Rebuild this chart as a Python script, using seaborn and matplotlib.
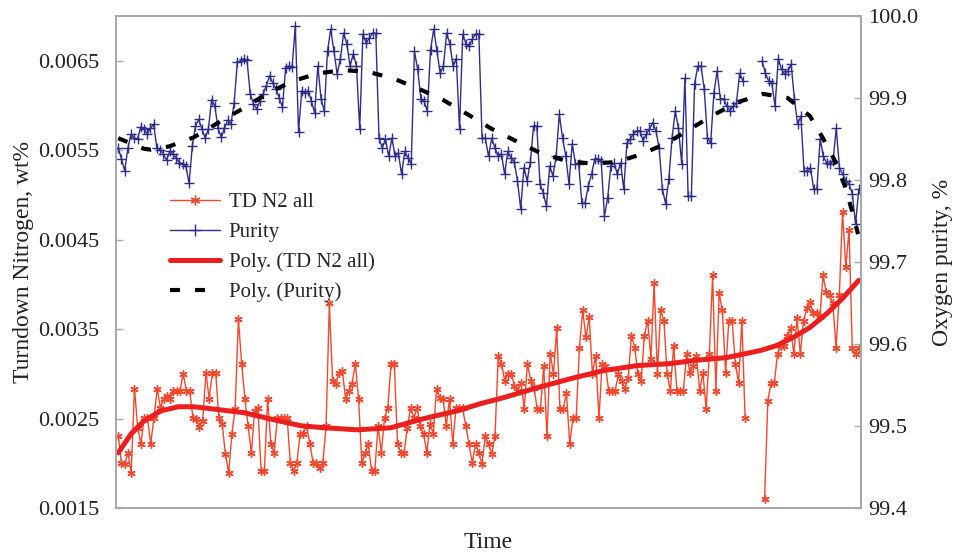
import numpy as np
import pandas as pd
import matplotlib
matplotlib.use("Agg")
import matplotlib.pyplot as plt
import seaborn as sns
from matplotlib.lines import Line2D

nan = np.nan

# TD N2 all, in units of 1e-4 wt% (nan = missing samples)
td_n2 = [
    23.07, 20.04, 19.93, 21.17, 18.92, 28.34, 23.97, 22.17, 25.09, 25.09,
    22.17, 25.09, 28.34, 26.21, 27.22, 27.56, 27.22, 28.12, 28.12, 28.12,
    30.02, 28.12, 28.12, 25.09, 24.98, 24.08, 24.75, 30.13, 27.22, 30.13,
    30.13, 25.09, 24.42, 21.05, 18.92, 23.30, 26.10, 36.08, 31.14, 27.22,
    24.19, 21.17, 25.87, 26.21, 19.15, 19.15, 27.22, 22.17, 21.17, 25.09,
    25.09, 25.09, 25.09, 20.04, 19.15, 20.04, 23.30, 23.30,
    24.19, 22.17, 20.04, 20.04, 19.48, 20.04, 24.19, 37.87, 29.24, 28.90,
    30.13, 30.36, 27.22, 28.12, 28.90, 31.14, 27.22, 20.04, 21.17, 22.17,
    19.15, 19.15, 24.19, 21.17, 25.09, 26.21, 31.14, 31.14, 22.17, 21.17,
    21.17, 23.97, 26.21, 25.09, 26.21, 24.19, 23.30, 21.17, 24.42, 23.30,
    28.34, 27.33, 27.22, 24.19, 27.22, 22.17, 26.21, 26.21, 26.21, 24.19,
    22.17, 20.04, 22.17, 21.17,
    19.93, 23.07, 22.17, 21.05, 23.07, 32.04, 31.14, 29.24, 30.02, 30.02,
    28.68, 28.12, 29.01, 26.10, 31.14, 29.24, 28.45, 26.10, 26.10, 30.92,
    23.07, 32.26, 30.02, 35.07, 26.10, 26.10, 27.89, 22.17, 25.09, 25.09,
    32.94, 37.09, 34.06, 36.30, 30.02, 32.04, 25.09, 31.14, 30.92, 28.12,
    28.12, 28.12, 30.02, 29.24, 28.34, 29.57, 34.28, 32.94, 30.02, 29.24,
    34.28, 35.96, 31.70, 40.11, 30.02, 37.09, 35.96, 30.02, 28.12, 33.16,
    28.12, 28.12, 28.12, 32.26, 30.13, 30.92, 32.04, 28.12, 30.13, 26.10,
    32.26, 41.01, 28.12, 38.99, 37.09, 30.13, 35.96, 35.96, 31.14, 29.01,
    35.96, 25.09, nan, nan, nan, nan, nan,
    16.01, 27.00, 29.01, 29.01, 32.26, 33.16, 33.16, 34.28, 35.07, 32.26,
    36.19, 32.26, 35.96, 37.31, 37.98, 36.75, 36.75, 36.30, 41.01, 39.10,
    38.77, 37.87, 32.94, 38.77, 48.07, 41.91, 46.05, 32.94, 32.26, 32.94,
]

# Purity, % (right axis)
purity = [
    99.839, 99.826, 99.811, 99.839, 99.856, 99.851, 99.850, 99.865, 99.862, 99.856,
    99.863, 99.868, 99.839, 99.837, 99.832, 99.824, 99.835, 99.832, 99.827, 99.821,
    99.820, 99.817, 99.796, 99.841, 99.866, 99.874, 99.862, 99.851, 99.862, 99.898,
    99.890, 99.863, 99.852, 99.863, 99.873, 99.868, 99.894, 99.944, 99.945, 99.948,
    99.946, 99.905, 99.893, 99.887, 99.896, 99.905, 99.915, 99.927, 99.918, 99.911,
    99.900, 99.889, 99.937, 99.939, 99.938, 99.988, 99.859, 99.909, 99.906,
    99.909, 99.896, 99.882, 99.939, 99.899, 99.884, 99.957, 99.984, 99.957,
    99.929, 99.948, 99.979, 99.966, 99.939, 99.954, 99.939, 99.862,
    99.978, 99.967, 99.973, 99.979, 99.979, 99.851, 99.839, 99.850,
    99.829, 99.851, 99.829, 99.833, 99.807, 99.835, 99.827, 99.820, 99.957,
    99.935, 99.899, 99.896, 99.884, 99.959, 99.984, 99.957, 99.930, 99.939,
    99.979, 99.966, 99.939, 99.948, 99.862, 99.978, 99.966, 99.963, 99.972,
    99.978, 99.978, 99.851, 99.851, 99.829, 99.851, 99.839, 99.829, 99.832,
    99.807, 99.835, 99.827, 99.822, 99.799, 99.765, 99.815, 99.799, 99.822, 99.866,
    99.866, 99.795, 99.784, 99.768, 99.817, 99.805, 99.829, 99.880, 99.851, 99.829,
    99.795, 99.844, 99.820, 99.820, 99.772, 99.772, 99.793, 99.807, 99.826, 99.826,
    99.823, 99.756, 99.778, 99.817, 99.821, 99.807, 99.821, 99.789, 99.845, 99.850,
    99.856, 99.860, 99.860, 99.848, 99.856, 99.862, 99.870, 99.860, 99.839, 99.789,
    99.771, 99.801, 99.851, 99.884, 99.863, 99.820, 99.924, 99.780, 99.780, 99.917,
    99.939, 99.939, 99.911, 99.851, 99.845, 99.906, 99.933, 99.899, 99.899, 99.890,
    99.884, 99.890, 99.894, 99.930, 99.921, nan, nan, nan, nan, nan,
    99.945, 99.930, 99.921, 99.918, 99.890, 99.948, 99.935, 99.929, 99.933, 99.941,
    99.899, 99.868, 99.878, 99.811, 99.811, 99.815, 99.789, 99.789, 99.850, 99.829,
    99.821, 99.820, 99.823, 99.863, 99.815, 99.807, 99.799, 99.795, 99.783, 99.746,
    99.789,
]

# polynomial trend lines as drawn, sampled at fractions of the time span
td_trend_t = [0, 0.0175, 0.035, 0.058, 0.081, 0.102, 0.125, 0.170, 0.216, 0.247,
              0.278, 0.323, 0.368, 0.412, 0.458, 0.489, 0.520, 0.566, 0.611, 0.655,
              0.701, 0.745, 0.776, 0.822, 0.867, 0.889, 0.911, 0.934, 0.957, 0.978, 1.0]
td_trend = [21.17, 23.30, 24.75, 25.87, 26.32, 26.32, 26.10, 25.65, 24.75, 24.19,
            23.97, 23.74, 23.97, 24.98, 25.87, 26.66, 27.33, 28.45, 29.46, 30.36,
            30.92, 31.14, 31.48, 31.82, 32.60, 33.16, 34.06, 35.18, 36.75, 38.43, 40.45]
pur_trend_t = [0, 0.035, 0.044, 0.069, 0.102, 0.139, 0.170, 0.202, 0.237, 0.270,
               0.303, 0.337, 0.371, 0.404, 0.438, 0.472, 0.503, 0.536, 0.570, 0.606,
               0.640, 0.674, 0.708, 0.741, 0.772, 0.803, 0.837, 0.871, 0.904, 0.934,
               0.951, 0.968, 0.981, 0.991, 0.999]
pur_trend = [99.851, 99.838, 99.837, 99.841, 99.852, 99.872, 99.888, 99.906, 99.921, 99.930,
             99.934, 99.932, 99.924, 99.912, 99.898, 99.880, 99.863, 99.848, 99.833, 99.823,
             99.820, 99.822, 99.832, 99.845, 99.862, 99.879, 99.895, 99.905, 99.900, 99.878,
             99.852, 99.823, 99.793, 99.762, 99.734]

left_ticks = [0.0015, 0.0025, 0.0035, 0.0045, 0.0055, 0.0065]
right_ticks = [99.4, 99.5, 99.6, 99.7, 99.8, 99.9, 100.0]

RED = "#F4472C"
TREND_RED = "#EC1E1E"
BLUE = "#2E2E8A"
FRAME = "#A8A8A8"
TEXT = "#222222"


def series_frame(values, scale=1.0):
    v = np.asarray(values, dtype=float) * scale
    df = pd.DataFrame({"t": np.linspace(0, 1, len(v)), "v": v})
    # break the line where samples are missing
    df["seg"] = np.cumsum(np.isnan(v))
    return df.dropna()


sns.set_theme(style="white")
plt.rcParams["font.family"] = ["Liberation Serif", "DejaVu Serif"]

fig = plt.figure(figsize=(9.57, 5.54), dpi=100)
ax = fig.add_axes([116 / 957, 1 - 508 / 554, 745 / 957, 492 / 554])
ax2 = ax.twinx()

td_df = series_frame(td_n2, 1e-4)
pur_df = series_frame(purity)

sns.lineplot(data=td_df, x="t", y="v", units="seg", estimator=None, ax=ax,
             color=RED, lw=1.0, marker=(6, 2, 0), markersize=6,
             markeredgecolor=RED, markeredgewidth=1.0, legend=False)
sns.lineplot(x=td_trend_t, y=np.array(td_trend) * 1e-4, ax=ax,
             color=TREND_RED, lw=3.6, legend=False)

sns.lineplot(data=pur_df, x="t", y="v", units="seg", estimator=None, ax=ax2,
             color=BLUE, lw=1.0, marker="+", markersize=7,
             markeredgecolor=BLUE, markeredgewidth=1.0, legend=False)
sns.lineplot(x=pur_trend_t, y=pur_trend, ax=ax2, color="black", lw=3.0,
             linestyle=(0, (2.4, 3.6)), legend=False)

ax.set_xlim(-0.003, 1.003)
ax.set_ylim(0.0015, 0.0070)
ax2.set_ylim(99.4, 100.0)
ax.set_xticks([])
ax.set_yticks(left_ticks)
ax.set_yticklabels([f"{t:.4f}" for t in left_ticks])
ax2.set_yticks(right_ticks)
ax2.set_yticklabels([f"{t:.1f}" for t in right_ticks])

for a in (ax, ax2):
    for s in a.spines.values():
        s.set_color(FRAME)
        s.set_linewidth(1.3)
    a.grid(False)
ax.tick_params(axis="y", direction="in", length=5, width=1,
               labelsize=16, pad=12, colors=TEXT)
ax2.tick_params(axis="y", direction="in", length=5, width=1,
                labelsize=16, pad=5, colors=TEXT)
ax.tick_params(axis="y", color=FRAME)
ax2.tick_params(axis="y", color=FRAME)

ax.set_xlabel("Time", fontsize=17, labelpad=17, color=TEXT)
ax.set_ylabel("Turndown Nitrogen, wt%", fontsize=17, labelpad=3, color=TEXT)
ax2.set_ylabel("Oxygen purity, %", fontsize=17, labelpad=10, color=TEXT)

handles = [
    Line2D([], [], color=RED, lw=1.0, marker=(6, 2, 0), markersize=7,
           markeredgecolor=RED, markeredgewidth=1.0),
    Line2D([], [], color=BLUE, lw=1.0, marker="+", markersize=8,
           markeredgecolor=BLUE, markeredgewidth=1.0),
    Line2D([], [], color=TREND_RED, lw=3.6),
    Line2D([], [], color="black", lw=3.0, linestyle=(0, (2.4, 3.6))),
]
labels = ["TD N2 all", "Purity", "Poly. (TD N2 all)", "Poly. (Purity)"]
ax2.legend(handles, labels, loc="upper left", bbox_to_anchor=(160 / 957, 1 - 182 / 554),
           bbox_transform=fig.transFigure, frameon=False, fontsize=15,
           handlelength=2.4, handletextpad=0.4, labelspacing=0.5, borderpad=0)

fig.savefig("out.png", dpi=100)
